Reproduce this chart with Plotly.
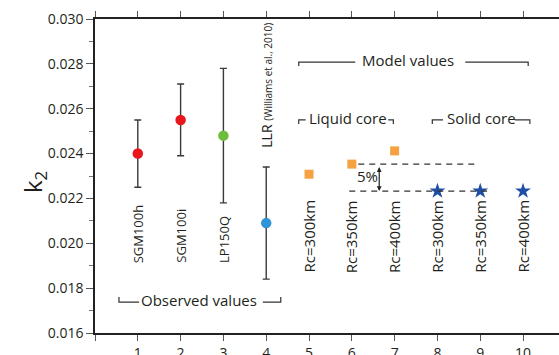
import plotly.graph_objects as go

# ---------------- data ----------------
obs_x = [1, 2, 3, 4]
obs_y = [0.0240, 0.0255, 0.0248, 0.0209]
obs_err = [0.0015, 0.0016, 0.0030, 0.0025]
obs_names = ["SGM100h", "SGM100i", "LP150Q", "LLR"]
obs_colors = ["#e8161d", "#e8161d", "#6cbd3c", "#2f95d6"]

liq_x = [5, 6, 7]
liq_y = [0.02308, 0.02353, 0.02412]
sol_x = [8, 9, 10]
sol_y = [0.02233, 0.02233, 0.02233]
model_labels = ["Rc=300km", "Rc=350km", "Rc=400km"]

x_tickvals = list(range(0, 11))
x_ticktext = [""] + [str(i) for i in range(1, 11)]

FONT = "Open Sans"
TXT = "#231f20"

fig = go.Figure()

# observed values with error bars
for xi, yi, ei, ci in zip(obs_x, obs_y, obs_err, obs_colors):
    fig.add_trace(go.Scatter(
        x=[xi], y=[yi], mode="markers",
        marker=dict(color=ci, size=10.5, line=dict(width=0)),
        error_y=dict(type="data", array=[ei], visible=True,
                     color="#3a3a3a", thickness=1.4, width=3.5),
        showlegend=False, hoverinfo="skip"))

# model values
fig.add_trace(go.Scatter(x=liq_x, y=liq_y, mode="markers",
                         marker=dict(symbol="square", color="#f5a342", size=9),
                         showlegend=False))
fig.add_trace(go.Scatter(x=sol_x, y=sol_y, mode="markers",
                         marker=dict(symbol="star", color="#1f4ea6", size=12),
                         showlegend=False))

shapes = []
dash_line = dict(color="#333333", width=1.2, dash="6px,5px")
# dashed reference levels derived from the data
shapes.append(dict(type="line", xref="x", yref="y", x0=6.15, x1=8.93,
                   y0=liq_y[1], y1=liq_y[1], line=dash_line))
shapes.append(dict(type="line", xref="x", yref="y", x0=5.94, x1=9.16,
                   y0=sol_y[0], y1=sol_y[0], line=dash_line))

# bracket decorations
brk = dict(color="#333333", width=1.2)
def bracket_piece(xa, xb, y, tick_at, dy):
    if tick_at == "left":
        path = f"M {xa},{y+dy} L {xa},{y} L {xb},{y}"
    else:
        path = f"M {xa},{y} L {xb},{y} L {xb},{y+dy}"
    return dict(type="path", xref="x", yref="y", path=path, line=brk)

y_model = 0.02808
y_core = 0.02550
y_obs = 0.01738
tick_dn = -0.00018
tick_up = 0.00022
shapes += [
    bracket_piece(4.76, 6.08, y_model, "left", tick_dn),
    bracket_piece(8.65, 10.12, y_model, "right", tick_dn),
    bracket_piece(4.76, 4.92, y_core, "left", tick_dn),
    bracket_piece(6.85, 6.97, y_core, "right", tick_dn),
    bracket_piece(7.88, 8.13, y_core, "left", tick_dn),
    bracket_piece(9.81, 10.16, y_core, "right", tick_dn),
    bracket_piece(0.56, 1.03, y_obs, "left", tick_up),
    bracket_piece(3.92, 4.34, y_obs, "right", tick_up),
]

annotations = []
def txt(x, y, t, size=15, angle=0, xa="center", ya="middle"):
    annotations.append(dict(x=x, y=y, xref="x", yref="y", text=t, showarrow=False,
                            textangle=angle, xanchor=xa, yanchor=ya,
                            font=dict(family=FONT, size=size, color=TXT)))

txt(7.32, y_model + 0.00008, "Model values", 15)
txt(5.91, y_core + 0.00010, "Liquid core", 15)
txt(9.03, y_core + 0.00010, "Solid core", 15)
txt(2.42, y_obs + 0.00010, "Observed values", 15)

# rotated labels
for xi, name in zip(obs_x[:3], obs_names[:3]):
    txt(xi, 0.01903, name, 13, -90, "center", "bottom")
txt(4, 0.02416, "LLR <span style='font-size:10px'>(Williams et al., 2010)</span>",
    14, -90, "center", "bottom")
for xs in (liq_x, sol_x):
    for xi, lab in zip(xs, model_labels):
        txt(xi, 0.01859, lab, 15, -90, "center", "bottom")

# 5% arrow
annotations.append(dict(x=6.64, y=sol_y[0], ax=6.64, ay=liq_y[1], xref="x", yref="y",
                        axref="x", ayref="y", text=" ", showarrow=True,
                        arrowhead=2, startarrowhead=2, arrowside="end+start",
                        arrowsize=0.8, arrowwidth=1.2, arrowcolor="#222222",
                        standoff=0, startstandoff=0, font=dict(size=2)))
txt(6.37, 0.02298, "5%", 15)

# y axis title
annotations.append(dict(x=-0.175, y=0.48, xref="paper", yref="paper", text="k<sub>2</sub>",
                        showarrow=False, textangle=-90,
                        font=dict(family=FONT, size=24, color=TXT)))

fig.update_layout(
    width=559, height=355,
    template="none",
    margin=dict(l=95, r=0, t=19, b=22),
    paper_bgcolor="white", plot_bgcolor="white",
    font=dict(family=FONT, size=14, color=TXT),
    shapes=shapes, annotations=annotations,
    showlegend=False,
)
fig.update_xaxes(
    range=[0, 10.84], tickvals=x_tickvals, ticktext=x_ticktext,
    showgrid=False, zeroline=False, showline=True, linecolor="#222222", linewidth=1.5,
    mirror="ticks", ticks="outside", ticklen=6, tickcolor="#555555", tickwidth=1,
    tickfont=dict(family=FONT, size=14, color=TXT), automargin=False,
)
fig.update_yaxes(
    range=[0.016, 0.030], tickvals=[0.016, 0.018, 0.020, 0.022, 0.024, 0.026, 0.028, 0.030],
    tickformat=".3f",
    showgrid=False, zeroline=False, showline=True, linecolor="#222222", linewidth=1.5,
    ticks="outside", ticklen=7, tickcolor="#555555", tickwidth=1,
    minor=dict(dtick=0.001, tick0=0.016, ticks="outside", ticklen=4, tickcolor="#777777", showgrid=False),
    tickfont=dict(family=FONT, size=14, color=TXT), automargin=False,
)

fig.write_html("out.html", config={"displayModeBar": False},
               post_script="document.body.style.margin='0';document.body.style.padding='0';document.body.style.overflow='hidden';")
